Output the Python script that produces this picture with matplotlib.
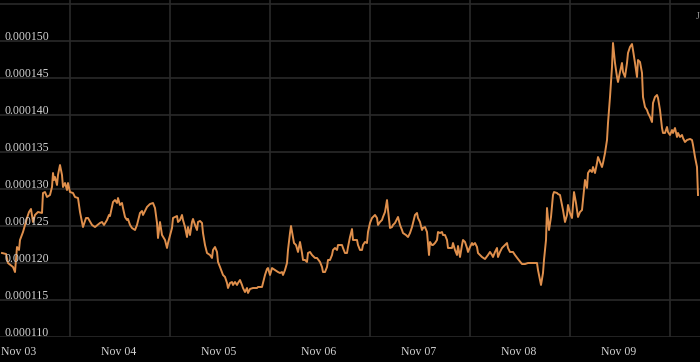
import numpy as np
import matplotlib

matplotlib.use('Agg')
import matplotlib.pyplot as plt
import matplotlib.transforms as mtransforms

# days after Nov 03 00:00
days = [
    -0.17, -0.13, -0.11, -0.06, -0.04, -0.02, 0.00, 0.01, 0.04, 0.06, 0.08, 0.10, 0.12, 0.14, 0.16, 0.19,
    0.23, 0.24, 0.26, 0.28, 0.31, 0.33, 0.34, 0.35, 0.36, 0.38, 0.39, 0.41, 0.43, 0.44, 0.46, 0.48,
    0.49, 0.51, 0.54, 0.56, 0.59, 0.61, 0.63, 0.64, 0.67, 0.69, 0.73, 0.76, 0.81, 0.83, 0.85, 0.88,
    0.90, 0.91, 0.94, 0.96, 0.98, 0.99, 1.01, 1.03, 1.04, 1.06, 1.08, 1.09, 1.11, 1.13, 1.16, 1.18,
    1.21, 1.23, 1.24, 1.28, 1.31, 1.34, 1.36, 1.38, 1.39, 1.41, 1.43, 1.46, 1.48, 1.49, 1.53, 1.54,
    1.58, 1.59, 1.61, 1.63, 1.64, 1.66, 1.68, 1.69, 1.71, 1.73, 1.74, 1.76, 1.78, 1.79, 1.81, 1.83,
    1.84, 1.86, 1.88, 1.91, 1.93, 1.94, 1.96, 1.98, 1.99, 2.01, 2.04, 2.06, 2.08, 2.09, 2.11, 2.13,
    2.14, 2.16, 2.18, 2.19, 2.21, 2.23, 2.24, 2.26, 2.28, 2.29, 2.31, 2.34, 2.38, 2.39, 2.43, 2.44,
    2.46, 2.48, 2.49, 2.51, 2.53, 2.56, 2.59, 2.61, 2.63, 2.64, 2.66, 2.68, 2.69, 2.71, 2.72, 2.74,
    2.75, 2.77, 2.79, 2.81, 2.83, 2.84, 2.86, 2.88, 2.89, 2.91, 2.93, 2.96, 2.98, 3.01, 3.03, 3.04,
    3.06, 3.08, 3.09, 3.11, 3.13, 3.14, 3.16, 3.18, 3.19, 3.23, 3.24, 3.26, 3.28, 3.29, 3.31, 3.33,
    3.34, 3.38, 3.39, 3.41, 3.43, 3.44, 3.46, 3.48, 3.49, 3.51, 3.53, 3.54, 3.56, 3.58, 3.59, 3.61,
    3.63, 3.64, 3.66, 3.68, 3.69, 3.71, 3.73, 3.74, 3.76, 3.79, 3.81, 3.83, 3.84, 3.87, 3.89, 3.91,
    3.93, 3.94, 3.96, 3.98, 3.99, 4.01, 4.03, 4.04, 4.06, 4.08, 4.09, 4.10, 4.11, 4.13, 4.14, 4.16,
    4.18, 4.19, 4.21, 4.23, 4.24, 4.26, 4.28, 4.29, 4.33, 4.34, 4.36, 4.38, 4.39, 4.41, 4.43, 4.44,
    4.46, 4.48, 4.49, 4.51, 4.53, 4.54, 4.56, 4.58, 4.59, 4.63, 4.66, 4.69, 4.71, 4.73, 4.74, 4.76,
    4.78, 4.79, 4.81, 4.83, 4.86, 4.88, 4.89, 4.91, 4.94, 4.96, 4.99, 5.03, 5.06, 5.09, 5.13, 5.16,
    5.18, 5.19, 5.21, 5.22, 5.24, 5.25, 5.27, 5.28, 5.30, 5.32, 5.34, 5.35, 5.38, 5.39, 5.41, 5.44,
    5.46, 5.48, 5.49, 5.51, 5.53, 5.55, 5.57, 5.59, 5.61, 5.63, 5.64, 5.66, 5.68, 5.69, 5.71, 5.73,
    5.74, 5.76, 5.78, 5.79, 5.81, 5.83, 5.84, 5.86, 5.88, 5.89, 5.91, 5.93, 5.94, 5.96, 5.98, 5.99,
    6.01, 6.03, 6.04, 6.06, 6.08, 6.09, 6.11, 6.13, 6.14, 6.16, 6.18, 6.19, 6.21, 6.23, 6.24, 6.26,
    6.28, 6.29, 6.31, 6.33, 6.34, 6.36, 6.38, 6.39, 6.41, 6.43, 6.44, 6.46, 6.48, 6.49, 6.51, 6.53,
    6.54, 6.56, 6.58, 6.59, 6.61, 6.63, 6.64, 6.66, 6.68, 6.71, 6.73, 6.74, 6.76, 6.78, 6.79,
]

# price in millionths
price = [
    121.35, 121.22, 120.00, 119.46, 118.78, 122.16, 121.76, 123.11, 124.19, 125.14, 126.08, 126.89, 127.30, 125.54, 126.49, 126.89,
    126.76, 129.46, 129.59, 128.92, 129.19, 130.27, 132.16, 131.22, 131.62, 130.54, 131.89, 133.24, 131.89, 130.27, 130.81, 129.86,
    130.81, 129.59, 129.46, 128.92, 128.78, 126.89, 125.54, 124.86, 126.08, 126.08, 125.14, 124.86, 125.41, 125.54, 125.14, 125.81,
    126.49, 126.35, 128.24, 128.51, 128.11, 128.78, 127.84, 128.11, 127.43, 126.22, 125.81, 125.95, 125.14, 124.73, 124.46, 125.14,
    126.76, 127.03, 126.49, 127.57, 127.97, 128.11, 127.43, 125.41, 123.38, 125.54, 123.78, 123.11, 122.03, 122.70, 124.73, 126.08,
    126.35, 125.54, 125.81, 126.49, 125.81, 124.86, 123.51, 124.86, 123.78, 125.54, 125.95, 125.14, 124.46, 125.54, 125.68, 125.41,
    124.05, 122.43, 121.35, 121.08, 120.68, 121.76, 122.16, 121.49, 120.14, 119.46, 118.38, 118.11, 117.30, 116.62, 117.30, 117.43,
    117.03, 117.43, 117.03, 117.30, 117.70, 117.03, 116.62, 116.08, 116.62, 115.95, 116.49, 116.62, 116.62, 116.76, 116.76, 117.30,
    118.38, 119.19, 119.32, 118.38, 119.32, 119.05, 118.78, 118.65, 118.78, 118.38, 119.05, 120.00, 121.76, 124.05, 125.00, 123.51,
    122.70, 122.43, 121.49, 122.84, 121.35, 120.41, 120.41, 120.14, 121.35, 121.49, 121.08, 120.68, 120.68, 120.14, 119.46, 118.78,
    118.78, 119.46, 120.41, 120.41, 121.08, 121.76, 122.03, 121.76, 122.43, 122.43, 122.03, 121.35, 121.35, 122.16, 123.51, 124.59,
    123.11, 123.11, 122.43, 121.76, 121.76, 122.43, 122.84, 122.70, 124.19, 125.41, 126.08, 126.22, 126.49, 126.08, 125.14, 125.54,
    125.81, 126.22, 126.89, 128.51, 127.16, 124.73, 124.86, 125.14, 125.41, 126.22, 125.14, 124.46, 124.05, 123.78, 123.51, 124.05,
    124.86, 125.41, 126.49, 126.76, 126.08, 125.54, 124.46, 124.73, 124.86, 124.19, 122.70, 121.08, 122.84, 122.43, 122.43, 122.70,
    123.11, 124.19, 124.05, 124.19, 123.78, 123.78, 123.11, 122.03, 122.03, 122.70, 121.76, 121.08, 122.30, 120.81, 122.43, 123.11,
    122.84, 122.03, 121.49, 122.16, 122.70, 122.43, 122.70, 122.16, 121.35, 120.81, 120.54, 121.08, 121.49, 121.08, 120.81, 121.49,
    122.03, 120.81, 121.49, 122.03, 122.43, 122.70, 122.03, 121.49, 121.49, 121.08, 120.54, 119.86, 119.86, 120.00, 120.00, 120.00,
    120.00, 119.05, 117.70, 117.03, 118.65, 120.41, 123.11, 127.43, 124.46, 126.22, 129.19, 129.59, 129.46, 129.32, 129.19, 127.16,
    125.54, 126.49, 127.84, 126.76, 126.08, 129.59, 128.11, 126.22, 126.89, 127.16, 128.51, 131.22, 130.14, 132.16, 132.57, 132.30,
    132.97, 132.16, 133.51, 134.32, 133.65, 132.97, 133.51, 134.86, 136.62, 138.92, 142.43, 146.49, 149.73, 147.03, 145.14, 144.46,
    145.81, 147.03, 145.81, 145.14, 147.03, 148.38, 149.19, 149.59, 148.78, 147.03, 145.14, 147.43, 147.16, 145.68, 142.43, 141.08,
    140.68, 140.27, 139.73, 139.05, 141.62, 142.43, 142.70, 142.30, 140.68, 138.24, 137.57, 137.57, 138.38, 137.70, 137.30, 137.97,
    137.57, 138.24, 137.03, 137.57, 137.03, 137.30, 136.89, 136.35, 136.62, 136.76, 136.62, 135.95, 134.32, 132.97, 129.19,
]

x_labels = ['Nov 03', 'Nov 04', 'Nov 05', 'Nov 06', 'Nov 07', 'Nov 08', 'Nov 09']
y_ticks = [110, 115, 120, 125, 130, 135, 140, 145, 150, 155]

LINE_COLOR = '#df8f4c'
GRID_COLOR = '#2a2a2a'
TEXT_COLOR = '#d4d4d4'
FONT = 'Liberation Serif'

fig = plt.figure(figsize=(7, 3.62), dpi=100, facecolor='black')
ax = fig.add_axes([0, 25 / 362, 1, 337 / 362])
ax.set_facecolor('black')

vals = np.array(price) * 1e-6
ax.plot(days, vals, color=LINE_COLOR, linewidth=1.4, solid_joinstyle='round')

ax.set_xlim(-0.19, 6.81)
ax.set_ylim(110e-6, 110e-6 + 337 / 7.4 * 1e-6)

# date labels at midnight, gridlines at noon
label_pos = np.arange(len(x_labels))
ax.set_xticks(label_pos)
ax.set_xticklabels(x_labels, fontsize=8.5, color=TEXT_COLOR, family=FONT)
ax.set_xticks(label_pos + 0.51, minor=True)
ax.tick_params(axis='x', which='both', length=0, pad=6.5)
ax.grid(True, axis='x', which='minor', color=GRID_COLOR, linewidth=1.2)

ax.set_yticks([t * 1e-6 for t in y_ticks])
ax.set_yticklabels([])
ax.tick_params(axis='y', length=0)
ax.grid(True, axis='y', which='major', color=GRID_COLOR, linewidth=1.2)
ax.set_axisbelow(True)

trans = mtransforms.offset_copy(ax.get_yaxis_transform(), fig=fig, x=0, y=1.0, units='points')
for t in y_ticks[:-1]:
    ax.text(0.007, t * 1e-6, f'{t * 1e-6:.6f}', transform=trans, fontsize=8.5,
            color=TEXT_COLOR, family=FONT, ha='left', va='baseline')

for s in ax.spines.values():
    s.set_visible(False)

fig.text(0.994, 0.955, 'J', fontsize=7, color='#999999', family=FONT, ha='left', va='center')

fig.savefig('out.png', dpi=100, facecolor='black')
